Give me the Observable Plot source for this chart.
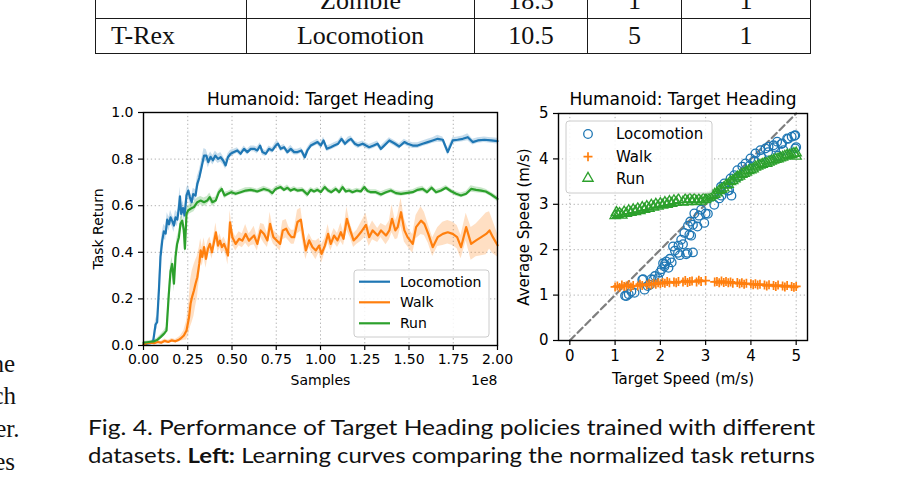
<!DOCTYPE html>
<html><head><meta charset="utf-8">
<script src="https://cdn.jsdelivr.net/npm/d3@7"></script>
<script src="https://cdn.jsdelivr.net/npm/@observablehq/plot@0.6"></script>
<style>
html,body{margin:0;padding:0;background:#fff;}
#page{position:relative;width:903px;height:479px;overflow:hidden;background:#fff;}
table.t{position:absolute;left:95px;top:-17.5px;border-collapse:collapse;table-layout:fixed;width:715px;font-family:"Liberation Serif",serif;font-size:26px;color:#111;}
table.t td{border:1.4px solid #1a1a1a;height:35px;box-sizing:border-box;padding:0;text-align:center;white-space:nowrap;}
table.t td.first{text-align:left;padding-left:15px;}
</style></head>
<body><div id="page"></div>
<script>
// ---------- table (partial, top of page) ----------
const tableCharacter = ["", "T-Rex"];
const tableDataset = ["Zombie", "Locomotion"];
const tableMinutes = ["18.3", "10.5"];
const tableColA = ["1", "5"];
const tableColB = ["1", "1"];

// ---------- left chart: learning curves (x in units of 1e8 samples) ----------
const seriesNames = ["Locomotion", "Walk", "Run"];
const seriesColors = ["#1f77b4", "#ff7f0e", "#2ca02c"];

const locoX = [0,0.02,0.04,0.055,0.068,0.077,0.087,0.096,0.106,0.115,0.125,0.134,0.144,0.153,0.162,0.172,0.181,0.191,0.2,0.206,0.213,0.223,0.232,0.243,0.253,0.262,0.272,0.281,0.294,0.304,0.315,0.328,0.342,0.355,0.366,0.379,0.392,0.406,0.421,0.436,0.45,0.464,0.477,0.492,0.511,0.53,0.549,0.568,0.587,0.606,0.625,0.643,0.659,0.672,0.691,0.709,0.728,0.747,0.76,0.775,0.794,0.813,0.832,0.851,0.87,0.892,0.911,0.926,0.945,0.964,0.983,1.002,1.017,1.036,1.058,1.077,1.1,1.119,1.138,1.157,1.172,1.194,1.213,1.238,1.257,1.275,1.3,1.322,1.341,1.36,1.389,1.417,1.445,1.474,1.492,1.521,1.549,1.577,1.606,1.634,1.662,1.691,1.719,1.747,1.775,1.804,1.832,1.86,1.889,1.926,1.964,2.0];
const locoY = [0.005,0.008,0.01,0.02,0.09,0.1,0.236,0.38,0.45,0.49,0.48,0.54,0.52,0.55,0.535,0.515,0.55,0.54,0.59,0.64,0.565,0.59,0.558,0.644,0.665,0.637,0.615,0.65,0.643,0.694,0.72,0.765,0.815,0.815,0.787,0.81,0.795,0.815,0.801,0.808,0.794,0.773,0.808,0.823,0.83,0.837,0.823,0.844,0.83,0.844,0.844,0.837,0.858,0.83,0.823,0.844,0.837,0.858,0.866,0.844,0.851,0.83,0.844,0.83,0.83,0.837,0.808,0.837,0.858,0.866,0.873,0.858,0.88,0.844,0.851,0.858,0.866,0.887,0.866,0.88,0.887,0.866,0.858,0.866,0.858,0.851,0.858,0.866,0.844,0.858,0.88,0.868,0.854,0.873,0.866,0.858,0.858,0.866,0.873,0.88,0.887,0.883,0.83,0.88,0.883,0.887,0.894,0.873,0.88,0.883,0.88,0.877];
const locoBand = [0.003,0.004,0.005,0.008, 0.02,0.03,0.04,0.04,0.035,0.03,0.03, 0.03,0.03,0.03,0.025,0.03,0.03,0.03,0.035, 0.04,0.03,0.03,0.03,0.03,0.025,0.025,0.025,0.025,0.025, 0.03,0.03,0.03,0.03,0.025,0.025,0.02,0.02,0.02,0.02,0.02, 0.018,0.018,0.015,0.015,0.012,0.012,0.012,0.012,0.012,0.012, 0.012,0.015,0.012,0.015,0.012,0.012,0.012,0.015,0.012,0.012, 0.012,0.012,0.015,0.012,0.012,0.012,0.015,0.012,0.012,0.012, 0.012,0.012,0.015,0.012,0.012,0.012,0.012,0.012,0.012,0.015, 0.012,0.012,0.012,0.012,0.012,0.012,0.012,0.012,0.012,0.012, 0.012,0.012,0.012,0.012,0.012,0.012,0.012,0.012,0.012,0.012, 0.015,0.012,0.015,0.012,0.012,0.012,0.015,0.012,0.012,0.012,0.012,0.012];

const walkX = [0,0.02,0.04,0.06,0.08,0.1,0.12,0.14,0.16,0.18,0.2,0.21,0.228,0.243,0.257,0.266,0.275,0.285,0.294,0.304,0.315,0.323,0.332,0.342,0.353,0.364,0.375,0.387,0.398,0.409,0.421,0.432,0.443,0.455,0.466,0.477,0.489,0.502,0.521,0.54,0.558,0.577,0.596,0.606,0.625,0.643,0.662,0.681,0.7,0.715,0.734,0.753,0.772,0.787,0.806,0.821,0.836,0.851,0.87,0.889,0.904,0.917,0.936,0.955,0.974,0.992,1.006,1.025,1.043,1.058,1.077,1.096,1.115,1.13,1.149,1.168,1.187,1.206,1.228,1.257,1.275,1.294,1.323,1.342,1.37,1.389,1.404,1.423,1.436,1.455,1.474,1.492,1.521,1.54,1.568,1.587,1.609,1.634,1.662,1.691,1.719,1.747,1.772,1.794,1.823,1.851,1.879,1.908,1.936,1.955,1.974,2.0];
const walkY = [0.005,0.01,0.012,0.01,0.015,0.012,0.02,0.015,0.022,0.018,0.025,0.03,0.043,0.064,0.12,0.18,0.21,0.236,0.265,0.293,0.35,0.408,0.38,0.422,0.372,0.415,0.436,0.4,0.443,0.486,0.429,0.45,0.422,0.436,0.415,0.386,0.529,0.465,0.436,0.458,0.45,0.479,0.45,0.458,0.472,0.436,0.494,0.479,0.451,0.522,0.465,0.451,0.436,0.494,0.501,0.479,0.465,0.465,0.53,0.54,0.465,0.408,0.451,0.422,0.408,0.429,0.393,0.429,0.479,0.436,0.472,0.451,0.486,0.458,0.544,0.494,0.451,0.465,0.486,0.518,0.465,0.494,0.472,0.494,0.472,0.494,0.544,0.494,0.508,0.572,0.494,0.465,0.436,0.508,0.536,0.522,0.479,0.422,0.465,0.479,0.486,0.479,0.465,0.422,0.508,0.436,0.451,0.465,0.479,0.494,0.465,0.43];
const walkBand = [0.004,0.005,0.005,0.005,0.006,0.006,0.008,0.008,0.008,0.008,0.01,0.012, 0.02,0.04,0.07,0.1,0.11,0.11,0.1,0.09,0.07, 0.05,0.04,0.04,0.04,0.035,0.03,0.03,0.03,0.04,0.03,0.03,0.03,0.03,0.03,0.04, 0.05,0.03,0.03,0.03,0.03,0.04,0.03,0.03,0.04,0.03,0.03,0.04,0.03,0.05, 0.03,0.03,0.03,0.04,0.04,0.03,0.03,0.03,0.05,0.05,0.04,0.04, 0.03,0.03,0.04,0.03,0.04,0.03,0.04,0.03,0.03,0.03,0.04,0.03,0.05, 0.03,0.03,0.03,0.04,0.05,0.04,0.04,0.03,0.03,0.04,0.04,0.06,0.04, 0.05,0.06,0.05,0.04,0.04,0.05,0.06,0.05,0.04,0.04,0.04,0.05, 0.05,0.05,0.05,0.05,0.06,0.07,0.07,0.08,0.09,0.08,0.07,0.05];

const runX = [0,0.02,0.04,0.06,0.08,0.096,0.115,0.13,0.143,0.153,0.162,0.172,0.181,0.19,0.2,0.209,0.219,0.228,0.234,0.243,0.253,0.266,0.285,0.304,0.323,0.342,0.36,0.374,0.389,0.408,0.426,0.442,0.458,0.477,0.496,0.521,0.549,0.577,0.606,0.625,0.643,0.68,0.709,0.728,0.747,0.775,0.794,0.813,0.832,0.851,0.87,0.898,0.926,0.945,0.964,0.983,1.002,1.024,1.043,1.062,1.087,1.106,1.125,1.143,1.162,1.181,1.206,1.228,1.247,1.266,1.285,1.313,1.342,1.37,1.398,1.426,1.455,1.483,1.521,1.549,1.577,1.602,1.628,1.653,1.681,1.709,1.738,1.766,1.794,1.823,1.851,1.879,1.908,1.934,1.964,2.0];
const runY = [0.012,0.014,0.016,0.018,0.025,0.036,0.05,0.064,0.22,0.32,0.35,0.265,0.38,0.436,0.465,0.522,0.536,0.494,0.415,0.565,0.58,0.587,0.594,0.615,0.622,0.615,0.622,0.637,0.615,0.622,0.658,0.672,0.644,0.651,0.658,0.651,0.658,0.665,0.668,0.665,0.661,0.672,0.665,0.654,0.672,0.68,0.668,0.677,0.665,0.672,0.665,0.668,0.648,0.668,0.661,0.668,0.658,0.68,0.665,0.658,0.672,0.658,0.68,0.661,0.665,0.658,0.665,0.661,0.68,0.663,0.658,0.658,0.648,0.658,0.665,0.654,0.651,0.654,0.658,0.668,0.672,0.658,0.677,0.658,0.665,0.677,0.662,0.651,0.644,0.651,0.672,0.668,0.665,0.661,0.648,0.629];
const runBand = [0.004,0.005,0.005,0.006,0.008,0.01,0.012,0.015, 0.03,0.03,0.03,0.035,0.03,0.03,0.025,0.025,0.025,0.03,0.03,0.025, 0.02,0.02,0.02,0.018,0.018,0.018,0.018,0.018,0.018,0.015, 0.012,0.012,0.014,0.01,0.01,0.01,0.01,0.012,0.01,0.01, 0.01,0.012,0.01,0.014,0.01,0.01,0.01,0.012,0.01,0.01, 0.01,0.01,0.014,0.01,0.01,0.01,0.01,0.012,0.01,0.01, 0.01,0.01,0.012,0.01,0.01,0.01,0.01,0.01,0.012,0.01, 0.01,0.01,0.012,0.01,0.01,0.01,0.01,0.01,0.01,0.01, 0.012,0.01,0.01,0.01,0.01,0.01,0.01,0.01,0.01,0.01, 0.014,0.012,0.012,0.01,0.01,0.012];

const sampleTicks = [0,0.25,0.5,0.75,1.0,1.25,1.5,1.75,2.0];
const returnTicks = [0,0.2,0.4,0.6,0.8,1.0];

// ---------- right chart: target speed vs average speed ----------
const locoTarget = [1.22,1.25,1.3,1.36,1.43,1.6,1.62,1.65,1.72,1.77,1.8,1.84,1.88,1.95,1.99,2.03,2.06,2.09,2.1,2.13,2.18,2.21,2.25,2.28,2.32,2.39,2.4,2.43,2.46,2.5,2.53,2.57,2.6,2.61,2.64,2.66,2.68,2.72,2.72,2.75,2.82,2.85,2.9,2.97,3.0,3.05,3.19,3.3,3.34,3.35,3.41,3.49,3.52,3.55,3.57,3.63,3.7,3.71,3.81,3.88,3.97,3.99,4.08,4.1,4.21,4.23,4.32,4.38,4.39,4.5,4.52,4.58,4.6,4.67,4.69,4.72,4.8,4.82,4.9,4.96,4.98,4.98,5.0];
const locoAvg = [0.985,0.98,1.02,1.08,1.05,1.34,1.35,1.12,1.2,1.23,1.35,1.34,1.42,1.375,1.5,1.57,1.7,1.63,1.68,1.74,1.6,1.8,1.72,2.07,1.98,1.93,2.09,1.88,2.22,2.12,2.37,1.9,1.93,2.53,2.33,2.62,2.31,1.94,2.55,2.8,2.51,2.75,2.88,2.59,2.8,2.79,2.99,3.13,3.39,3.19,3.46,3.3,3.31,3.57,3.19,3.64,3.75,3.6,3.83,3.9,3.85,4.01,3.96,4.12,4.19,4.04,4.23,4.15,4.27,4.3,4.26,4.38,4.07,4.33,4.34,4.19,4.45,4.44,4.49,4.51,4.52,4.23,4.26];
const walkTarget = [1.0,1.05,1.1,1.15,1.2,1.25,1.3,1.35,1.4,1.5,1.55,1.6,1.7,1.75,1.8,1.85,1.9,1.95,2.0,2.05,2.1,2.15,2.2,2.3,2.35,2.4,2.5,2.55,2.6,2.65,2.7,2.8,2.85,2.9,3.0,3.2,3.25,3.3,3.35,3.4,3.45,3.5,3.55,3.6,3.7,3.75,3.8,3.85,3.9,4.0,4.05,4.1,4.15,4.2,4.3,4.35,4.4,4.5,4.55,4.6,4.7,4.75,4.8,4.9,4.95,5.0];
const walkAvg = [1.18,1.2,1.17,1.22,1.19,1.2,1.23,1.18,1.21,1.2,1.24,1.21,1.22,1.25,1.23,1.26,1.24,1.27,1.25,1.28,1.26,1.3,1.27,1.29,1.27,1.3,1.29,1.32,1.28,1.3,1.31,1.29,1.33,1.3,1.32,1.29,1.3,1.27,1.31,1.28,1.3,1.27,1.29,1.26,1.28,1.25,1.27,1.24,1.26,1.25,1.23,1.25,1.22,1.24,1.22,1.2,1.23,1.21,1.19,1.22,1.2,1.18,1.21,1.19,1.17,1.19];
const runTarget = [1.0,1.03,1.06,1.1,1.15,1.2,1.25,1.3,1.35,1.4,1.45,1.5,1.55,1.6,1.65,1.7,1.75,1.8,1.85,1.9,1.95,2.0,2.05,2.1,2.15,2.2,2.25,2.3,2.35,2.4,2.5,2.55,2.6,2.65,2.7,2.75,2.8,2.85,2.9,2.95,3.0,3.05,3.1,3.15,3.2,3.25,3.3,3.35,3.4,3.45,3.5,3.55,3.6,3.65,3.7,3.75,3.8,3.85,3.9,3.95,4.0,4.05,4.1,4.15,4.2,4.25,4.3,4.35,4.4,4.45,4.5,4.55,4.6,4.65,4.7,4.75,4.8,4.85,4.9,4.95,5.0,5.0];
const runAvg = [2.75,2.82,2.78,2.8,2.76,2.83,2.8,2.86,2.82,2.88,2.84,2.9,2.86,2.93,2.89,2.95,2.91,2.98,2.94,3.0,2.96,3.02,2.98,3.04,3.0,3.06,3.02,3.08,3.04,3.1,3.05,3.1,3.06,3.12,3.07,3.11,3.06,3.1,3.07,3.12,3.1,3.14,3.16,3.19,3.22,3.25,3.3,3.33,3.36,3.42,3.44,3.5,3.52,3.56,3.6,3.62,3.66,3.68,3.71,3.74,3.76,3.78,3.82,3.84,3.86,3.88,3.9,3.9,3.93,3.95,3.97,3.99,4.0,4.02,4.04,4.06,4.08,4.08,4.1,4.12,4.13,4.06];
const idealX = [0, 5];
const idealY = [0, 5];
const speedTicks = [0,1,2,3,4,5];

// ---------- texts ----------
const chartTitle = "Humanoid: Target Heading";
const captionLine1 = "Fig. 4. Performance of Target Heading policies trained with different";
const captionLine2 = ["datasets. ", "Left:", " Learning curves comparing the normalized task returns"];
const marginWords = ["he", "ch", "er.", "es"];

// ================= build =================
const page = document.getElementById("page");

// table
const tbl = document.createElement("table");
tbl.className = "t";
const cg = document.createElement("colgroup");
[151, 228, 113, 94, 129].forEach(w => { const c = document.createElement("col"); c.style.width = w + "px"; cg.appendChild(c); });
tbl.appendChild(cg);
for (let i = 0; i < tableCharacter.length; i++) {
  const tr = document.createElement("tr");
  [tableCharacter[i], tableDataset[i], tableMinutes[i], tableColA[i], tableColB[i]].forEach((v, j) => {
    const td = document.createElement("td");
    if (j === 0) td.className = "first";
    td.textContent = v;
    tr.appendChild(td);
  });
  tbl.appendChild(tr);
}
page.appendChild(tbl);

function rowsFor(name, xs, ys, bs) {
  const n = Math.min(xs.length, ys.length, bs.length);
  return d3.range(n).map(i => ({series: name, x: xs[i], y: ys[i], lo: ys[i] - bs[i], hi: ys[i] + bs[i]}));
}
const curves = [
  ...rowsFor("Locomotion", locoX, locoY, locoBand),
  ...rowsFor("Walk", walkX, walkY, walkBand),
  ...rowsFor("Run", runX, runY, runBand)
];
const gridStyle = {stroke: "#b0b0b0", strokeOpacity: 1, strokeWidth: 1, strokeDasharray: "1.3,2.6"};

const leftChart = Plot.plot({
  width: 440, height: 300,
  marginLeft: 63, marginRight: 23, marginTop: 32, marginBottom: 35,
  style: {fontFamily: "DejaVu Sans", fontSize: "14px", color: "#000", background: "none", overflow: "visible"},
  x: {domain: [0, 2]},
  y: {domain: [0, 1]},
  color: {domain: seriesNames, range: seriesColors},
  marks: [
    Plot.gridX(sampleTicks, gridStyle),
    Plot.gridY(returnTicks, gridStyle),
    Plot.areaY(curves, {x: "x", y1: "lo", y2: "hi", z: "series", fill: "series", fillOpacity: 0.25}),
    Plot.line(curves, {x: "x", y: "y", z: "series", stroke: "series", strokeWidth: 2.2}),
    Plot.frame({stroke: "#000", strokeWidth: 1.4}),
    Plot.axisX(sampleTicks, {tickFormat: d3.format(".2f"), tickSize: 5, tickPadding: 4, strokeWidth: 1.2, label: null}),
    Plot.axisY(returnTicks, {tickFormat: d3.format(".1f"), tickSize: 5, tickPadding: 5, strokeWidth: 1.2, label: null}),
    Plot.text([chartTitle], {text: d => d, frameAnchor: "top", dy: -8, lineAnchor: "bottom", fontSize: 17}),
    Plot.text(["Samples"], {text: d => d, frameAnchor: "bottom", dy: 39, lineAnchor: "bottom", fontSize: 14}),
    Plot.text(["1e8"], {text: d => d, frameAnchor: "bottom-right", textAnchor: "end", dy: 39, lineAnchor: "bottom", fontSize: 14}),
    Plot.text(["Task Return"], {text: d => d, frameAnchor: "left", rotate: -90, dx: -41, lineAnchor: "bottom", textAnchor: "middle", fontSize: 14})
  ]
});
leftChart.style.position = "absolute"; leftChart.style.left = "80px"; leftChart.style.top = "80px";
page.appendChild(leftChart);

const pts = (xs, ys) => d3.range(Math.min(xs.length, ys.length)).map(i => ({x: xs[i], y: ys[i]}));
const ideal = pts(idealX, idealY);
const rightChart = Plot.plot({
  width: 320, height: 300,
  marginLeft: 58, marginRight: 13, marginTop: 33, marginBottom: 40,
  style: {fontFamily: "DejaVu Sans", fontSize: "15px", color: "#000", background: "none", overflow: "visible"},
  x: {domain: [-0.25, 5.25]},
  y: {domain: [0, 5]},
  marks: [
    Plot.gridX(speedTicks, gridStyle),
    Plot.gridY(speedTicks, gridStyle),
    Plot.line(ideal, {x: "x", y: "y", stroke: "#7f7f7f", strokeWidth: 2.2, strokeDasharray: "7,4"}),
    Plot.dot(pts(locoTarget, locoAvg), {x: "x", y: "y", r: 4.3, stroke: seriesColors[0], fill: "none", strokeWidth: 1.3}),
    Plot.dot(pts(walkTarget, walkAvg), {x: "x", y: "y", symbol: "plus", r: 3.0, stroke: seriesColors[1], fill: "none", strokeWidth: 1.7}),
    Plot.dot(pts(runTarget, runAvg), {x: "x", y: "y", symbol: "triangle", r: 3.8, stroke: seriesColors[2], fill: "none", strokeWidth: 1.3}),
    Plot.frame({stroke: "#000", strokeWidth: 1.4}),
    Plot.axisX(speedTicks, {tickFormat: d3.format("d"), tickSize: 5, tickPadding: 5, strokeWidth: 1.2, label: null}),
    Plot.axisY(speedTicks, {tickFormat: d3.format("d"), tickSize: 5, tickPadding: 5, strokeWidth: 1.2, label: null}),
    Plot.text([chartTitle], {text: d => d, frameAnchor: "top", dy: -9, lineAnchor: "bottom", fontSize: 17}),
    Plot.text(["Target Speed (m/s)"], {text: d => d, frameAnchor: "bottom", dy: 43, lineAnchor: "bottom", fontSize: 15}),
    Plot.text(["Average Speed (m/s)"], {text: d => d, frameAnchor: "left", rotate: -90, dx: -30, lineAnchor: "bottom", textAnchor: "middle", fontSize: 15})
  ]
});
rightChart.style.position = "absolute"; rightChart.style.left = "500px"; rightChart.style.top = "80px";
page.appendChild(rightChart);

// legends (overlays)
function legendBox(left, top, w, h) {
  const svg = d3.select(page).append("svg")
    .attr("width", w + 2).attr("height", h + 2)
    .style("position", "absolute").style("left", (left - 1) + "px").style("top", (top - 1) + "px");
  svg.append("rect").attr("x", 1).attr("y", 1).attr("width", w).attr("height", h).attr("rx", 3)
    .attr("fill", "#fff").attr("fill-opacity", 0.85).attr("stroke", "#cccccc").attr("stroke-width", 1);
  return svg;
}
const lg1 = legendBox(354, 270, 135, 67);
[11.7, 32.3, 53.3].forEach((yy, i) => {
  lg1.append("line").attr("x1", 6).attr("x2", 37).attr("y1", yy + 1).attr("y2", yy + 1)
    .attr("stroke", seriesColors[i]).attr("stroke-width", 2.2);
  lg1.append("text").attr("x", 47).attr("y", yy + 1).attr("dy", "0.36em")
    .attr("font-family", "DejaVu Sans").attr("font-size", 14).text(seriesNames[i]);
});
const lg2 = legendBox(566, 121, 146, 72);
const ly = [13, 35.7, 57.3];
lg2.append("circle").attr("cx", 23).attr("cy", ly[0] + 1).attr("r", 4.3).attr("fill", "none").attr("stroke", seriesColors[0]).attr("stroke-width", 1.3);
lg2.append("path").attr("d", `M${23-4.5},${ly[1]+1}H${23+4.5}M23,${ly[1]+1-4.5}V${ly[1]+1+4.5}`).attr("stroke", seriesColors[1]).attr("stroke-width", 1.7);
lg2.append("path").attr("d", d3.symbol(d3.symbolTriangle, Math.PI * 3.8 * 3.8)()).attr("transform", `translate(23,${ly[2]+1})`).attr("fill", "none").attr("stroke", seriesColors[2]).attr("stroke-width", 1.3);
ly.forEach((yy, i) => {
  lg2.append("text").attr("x", 51).attr("y", yy + 1).attr("dy", "0.36em")
    .attr("font-family", "DejaVu Sans").attr("font-size", 15).text(seriesNames[i]);
});

// caption and margin text
const ov = d3.select(page).append("svg").attr("width", 903).attr("height", 479)
  .style("position", "absolute").style("left", "0px").style("top", "0px").style("pointer-events", "none");
ov.append("text").attr("x", 88).attr("y", 435).attr("textLength", 727).attr("lengthAdjust", "spacingAndGlyphs")
  .attr("font-family", "Lato").attr("font-size", 21).attr("fill", "#111").text(captionLine1);
const c2 = ov.append("text").attr("x", 88).attr("y", 463).attr("textLength", 727).attr("lengthAdjust", "spacingAndGlyphs")
  .attr("font-family", "Lato").attr("font-size", 21).attr("fill", "#111").style("white-space", "pre");
captionLine2.forEach((s, i) => { const t = c2.append("tspan").text(s); if (i === 1) t.attr("font-weight", "bold"); });
const marginBase = [371.5, 404, 437, 470];
const marginRight = [15, 16, 19.5, 15];
marginWords.forEach((w, i) => {
  ov.append("text").attr("x", marginRight[i]).attr("y", marginBase[i]).attr("text-anchor", "end")
    .attr("font-family", "Liberation Serif").attr("font-size", 25).attr("fill", "#111").text(w);
});
</script>
</body></html>
